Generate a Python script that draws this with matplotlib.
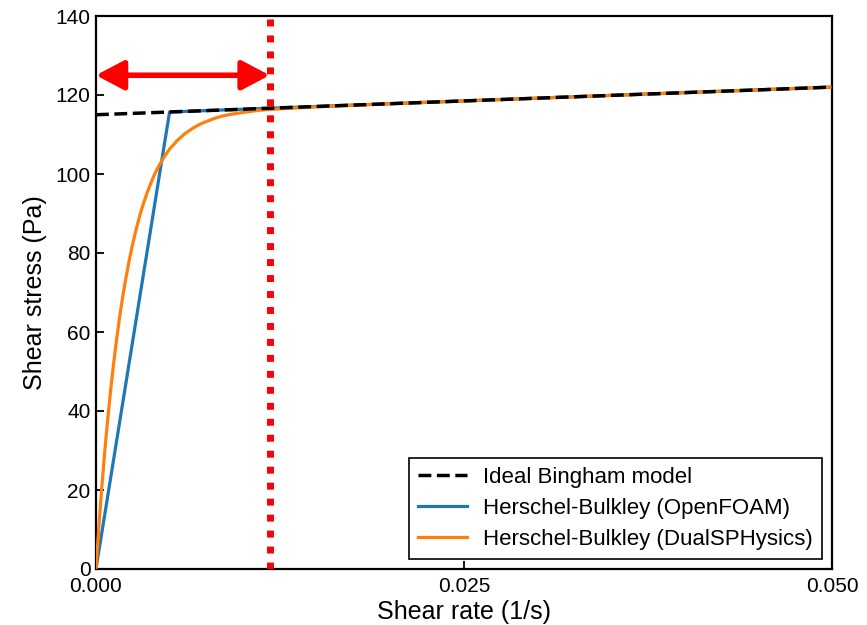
import matplotlib
matplotlib.use("Agg")
import matplotlib.pyplot as plt
from matplotlib.ticker import FormatStrFormatter

plt.rcParams['font.family'] = ['Liberation Sans', 'DejaVu Sans']

# Data
bingham_x = [0.0, 0.05]
bingham_y = [115.0, 122.0]

openfoam_x = [0.0, 0.005, 0.05]
openfoam_y = [0.0, 115.7, 122.0]

dualsph_x = [0.0, 0.0001, 0.0002, 0.0003, 0.0004, 0.0006, 0.0008, 0.001, 0.0012,
             0.0014, 0.0016, 0.0018, 0.002, 0.00225, 0.0025, 0.00275, 0.003,
             0.00325, 0.0035, 0.00375, 0.004, 0.00425, 0.0045, 0.00475, 0.005,
             0.0055, 0.006, 0.0065, 0.007, 0.0075, 0.008, 0.0085, 0.009, 0.010,
             0.011, 0.012, 0.015, 0.02, 0.03, 0.04, 0.05]
dualsph_y = [0.0, 5.6, 10.9, 16.0, 20.9, 29.9, 38.0, 45.4, 52.1,
             58.1, 63.6, 68.5, 73.0, 78.0, 82.4, 86.3, 89.8,
             92.8, 95.5, 97.9, 100.1, 101.9, 103.5, 105.0, 106.3,
             108.4, 110.1, 111.4, 112.5, 113.3, 114.0, 114.6, 115.0, 115.6,
             116.1, 116.4, 117.0, 117.8, 119.2, 120.6, 122.0]

marker_x = 0.0118
arrow_y = 125.0

x_ticks = [0.0, 0.025, 0.05]
y_ticks = [0, 20, 40, 60, 80, 100, 120, 140]

fig = plt.figure(figsize=(8.67, 6.25), dpi=100)
ax = fig.add_axes([0.1107, 0.0896, 0.8489, 0.8848])

ax.plot(openfoam_x, openfoam_y, color='#1f77b4', lw=2.3, zorder=2,
        label='Herschel-Bulkley (OpenFOAM)')
ax.plot(dualsph_x, dualsph_y, color='#ff7f0e', lw=2.3, zorder=3,
        label='Herschel-Bulkley (DualSPHysics)')
ax.plot(bingham_x, bingham_y, color='black', lw=2.5, ls='--', zorder=4,
        label='Ideal Bingham model')

ax.axvline(marker_x, color='red', lw=5, ls=(0, (1, 1.3)), zorder=5)
ax.annotate('', xy=(0.0, arrow_y), xytext=(marker_x, arrow_y),
            arrowprops=dict(arrowstyle='<|-|>,head_length=1.7,head_width=0.9',
                            color='red', lw=4, shrinkA=0, shrinkB=0),
            zorder=6)

ax.set_xlim(0, 0.05)
ax.set_ylim(0, 140)
ax.set_xticks(x_ticks)
ax.set_yticks(y_ticks)
ax.xaxis.set_major_formatter(FormatStrFormatter('%.3f'))
ax.tick_params(direction='in', length=6, width=1.3, labelsize=15, pad=4)
ax.tick_params(axis='x', pad=6)
for s in ax.spines.values():
    s.set_linewidth(1.6)

ax.set_xlabel('Shear rate (1/s)', fontsize=18, labelpad=3)
ax.set_ylabel('Shear stress (Pa)', fontsize=18, labelpad=6)

h, l = ax.get_legend_handles_labels()
order = [2, 0, 1]
leg = ax.legend([h[i] for i in order], [l[i] for i in order], loc='lower right',
                fontsize=16, frameon=True, fancybox=False, edgecolor='black',
                borderaxespad=0.45, handlelength=2.2, handletextpad=0.75,
                labelspacing=0.45, borderpad=0.4)
leg.get_frame().set_linewidth(1.2)
leg.get_frame().set_alpha(1)

fig.savefig('out.png', dpi=100)
